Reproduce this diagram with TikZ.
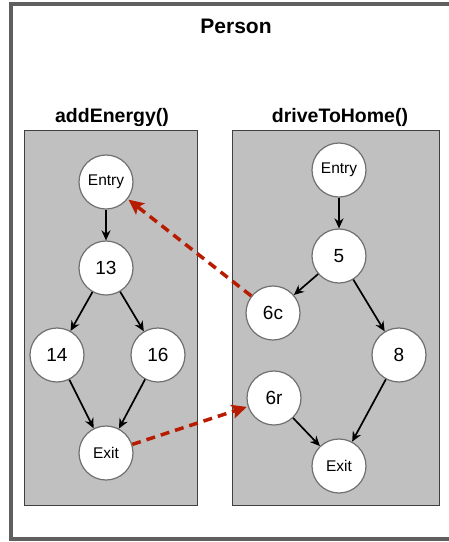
\documentclass[tikz,border=0pt]{standalone}
\usepackage{fontspec}
\setmainfont{Liberation Sans}
\usetikzlibrary{arrows.meta}
\definecolor{framegray}{HTML}{5F5F5F}
\definecolor{boxfill}{HTML}{C0C0C0}
\definecolor{boxline}{HTML}{404040}
\definecolor{circline}{HTML}{707070}
\definecolor{callred}{HTML}{B81C00}
\begin{document}
\begin{tikzpicture}[x=1pt,y=-1pt,
  cfg/.style={circle,draw=circline,fill=white,line width=1.2pt,minimum size=54pt,inner sep=0pt},
  lbl/.style={cfg,font=\fontsize{15.5}{16}\selectfont},
  num/.style={cfg,font=\fontsize{19}{20}\selectfont},
  flow/.style={-{Stealth[length=10pt,width=9pt]},line width=1.7pt,black},
  call/.style={-{Stealth[length=15pt,width=14pt,inset=3pt]},line width=3.5pt,callred,dash pattern=on 9pt off 6pt,shorten >=1pt},
  method/.style={draw=boxline,fill=boxfill,line width=1pt},
  ttl/.style={font=\bfseries\fontsize{19.5}{22}\selectfont}]
\useasboundingbox (0,0) rectangle (449,542);
\clip (0,0) rectangle (449,542);
\draw[framegray,line width=4pt] (11,4) rectangle (480,539);
\node[ttl,font=\bfseries\fontsize{21}{23}\selectfont] (person) at (236,26) {Person};
\draw[method] (24,130) rectangle (197,505);
\draw[method] (232,130) rectangle (439,505);
\node[ttl] (addE) at (112,117) {addEnergy()};
\node[ttl] (drive) at (340,117) {driveToHome()};
% addEnergy
\node[lbl] (aEntry) at (106,182) {Entry};
\node[num] (a13) at (106,268) {13};
\node[num] (a14) at (57,355) {14};
\node[num] (a16) at (158,355) {16};
\node[lbl] (aExit) at (106,453) {Exit};
% driveToHome
\node[lbl] (dEntry) at (339,170) {Entry};
\node[num] (d5) at (339,256) {5};
\node[num] (d6c) at (273,313) {6c};
\node[num] (d8) at (399,355) {8};
\node[num] (d6r) at (274,398) {6r};
\node[lbl] (dExit) at (339,466) {Exit};
\draw[flow] (aEntry) -- (a13);
\draw[flow] (a13) -- (a14);
\draw[flow] (a13) -- (a16);
\draw[flow] (a14) -- (aExit);
\draw[flow] (a16) -- (aExit);
\draw[flow] (dEntry) -- (d5);
\draw[flow] (d5) -- (d6c);
\draw[flow] (d5) -- (d8);
\draw[flow] (d6r) -- (dExit);
\draw[flow] (d8) -- (dExit);
\draw[call] (d6c) -- (aEntry);
\draw[call] (aExit) -- (d6r);
\end{tikzpicture}
\end{document}
